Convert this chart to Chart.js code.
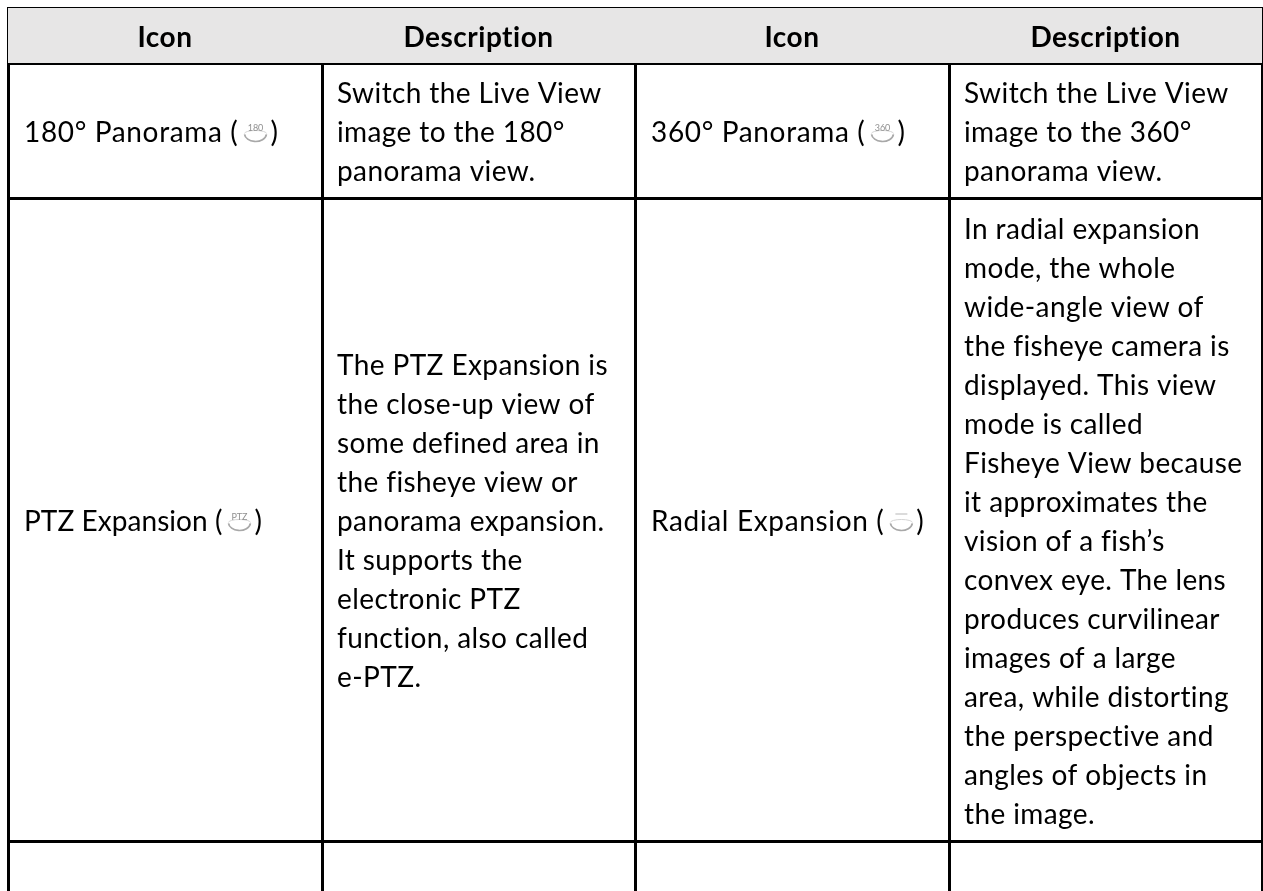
<!DOCTYPE html>
<html>
<head>
<meta charset="utf-8">
<title>Fisheye view icons</title>
<script src="https://cdn.jsdelivr.net/npm/chart.js@4"></script>
<style>
    html, body { margin: 0; padding: 0; background: #fff; }
    #wrap { width: 1263px; height: 891px; }
</style>
</head>
<body>
<div id="wrap"><canvas id="tabela"></canvas></div>
<script>
/* ---- DADOS ---- */
const columnEdges = [8, 322, 635, 949, 1262];
const rowEdges = [8, 63, 198, 841];
const headerLabels = ["Icon", "Description", "Icon", "Description"];

const row1Names = ["180° Panorama (", "360° Panorama ("];
const row1Icons = ["180", "360"];
const row2Names = ["PTZ Expansion (", "Radial Expansion ("];
const row2Icons = ["PTZ", ""];

const desc180 = ["Switch the Live View", "image to the 180°", "panorama view."];
const desc360 = ["Switch the Live View", "image to the 360°", "panorama view."];
const descPtz = [
    "The PTZ Expansion is", "the close-up view of", "some defined area in",
    "the fisheye view or", "panorama expansion.", "It supports the",
    "electronic PTZ", "function, also called", "e-PTZ."
];
const descRadial = [
    "In radial expansion", "mode, the whole", "wide-angle view of",
    "the fisheye camera is", "displayed. This view", "mode is called",
    "Fisheye View because", "it approximates the", "vision of a fish’s",
    "convex eye. The lens", "produces curvilinear", "images of a large",
    "area, while distorting", "the perspective and", "angles of objects in",
    "the image."
];

/* ---- ESTILO ---- */
const FONT = 'Lato';
const BODY_SIZE = 28;
const HEAD_SIZE = 28;
const LINE_H = 39;
const PAD_X = 15;
const BASE_OFF = 11.5;
const SPACING = "0.4px"; // tambem desliga as ligaduras do Lato
const EDGE = 7;

function drawIcon(ctx, x, midY, label) {
    ctx.save();
    ctx.letterSpacing = "0px";
    ctx.strokeStyle = "#a8a8a8";
    ctx.lineWidth = 1.7;
    ctx.beginPath();
    ctx.ellipse(x + 12, midY + 3, 11, 8, 0, 0.1, Math.PI - 0.1);
    ctx.stroke();
    ctx.strokeStyle = "#d4d4d4";
    ctx.lineWidth = 1;
    ctx.beginPath();
    ctx.ellipse(x + 12, midY + 3, 11, 3, 0, Math.PI, 0);
    ctx.stroke();
    ctx.fillStyle = "#909090";
    ctx.font = `9px ${FONT}`;
    ctx.textAlign = "center";
    if (label) ctx.fillText(label, x + 12, midY);
    else {
        ctx.fillStyle = "#b8b8b8";
        ctx.fillRect(x + 6, midY - 6, 12, 1);
    }
    ctx.restore();
}

function drawName(ctx, name, icon, x, midY, spacing) {
    ctx.save();
    ctx.letterSpacing = spacing;
    ctx.font = `${BODY_SIZE}px ${FONT}`;
    ctx.textAlign = "left";
    const baseY = midY + BASE_OFF;
    ctx.fillText(name, x, baseY);
    const w = ctx.measureText(name).width;
    drawIcon(ctx, x + w + 5, midY, icon);
    ctx.fillText(")", x + w + 32, baseY);
    ctx.restore();
}

function drawLines(ctx, lines, x, midY) {
    ctx.font = `${BODY_SIZE}px ${FONT}`;
    ctx.textAlign = "left";
    const top = midY - (lines.length - 1) * LINE_H / 2;
    lines.forEach((t, i) => ctx.fillText(t, x, top + i * LINE_H + BASE_OFF));
}

/* ---- PLUGIN: header fill + cell text, placed through the scales ---- */
const tablePlugin = {
    id: "tablePlugin",
    beforeDatasetsDraw(chart) {
        const { ctx, scales: { x, y } } = chart;
        ctx.save();
        ctx.fillStyle = "#e7e6e6";
        ctx.fillRect(x.getPixelForValue(columnEdges[0]), y.getPixelForValue(rowEdges[0]),
            x.getPixelForValue(columnEdges[4]) - x.getPixelForValue(columnEdges[0]),
            y.getPixelForValue(rowEdges[1]) - y.getPixelForValue(rowEdges[0]));
        ctx.restore();
    },
    afterDraw(chart) {
        const { ctx, scales: { x, y } } = chart;
        const colX = i => x.getPixelForValue(columnEdges[i]);
        const rowMid = i => (y.getPixelForValue(rowEdges[i]) + y.getPixelForValue(rowEdges[i + 1])) / 2;

        ctx.save();
        ctx.fillStyle = "#000";
        ctx.textBaseline = "alphabetic";

        // Cabecalho
        ctx.letterSpacing = "0.5px";
        ctx.font = `bold ${HEAD_SIZE}px ${FONT}`;
        ctx.textAlign = "center";
        headerLabels.forEach((t, i) => {
            ctx.fillText(t, (colX(i) + colX(i + 1)) / 2, rowMid(0) + 11);
        });

        ctx.letterSpacing = SPACING;

        // Linha 1
        drawName(ctx, row1Names[0], row1Icons[0], colX(0) + PAD_X + 1, rowMid(1), "0.65px");
        drawLines(ctx, desc180, colX(1) + PAD_X, rowMid(1));
        drawName(ctx, row1Names[1], row1Icons[1], colX(2) + PAD_X + 1, rowMid(1), "0.65px");
        drawLines(ctx, desc360, colX(3) + PAD_X, rowMid(1));

        // Linha 2
        drawName(ctx, row2Names[0], row2Icons[0], colX(0) + PAD_X + 1, rowMid(2), "0.05px");
        drawLines(ctx, descPtz, colX(1) + PAD_X, rowMid(2));
        drawName(ctx, row2Names[1], row2Icons[1], colX(2) + PAD_X + 1, rowMid(2), "0.65px");
        drawLines(ctx, descRadial, colX(3) + PAD_X, rowMid(2));

        ctx.restore();
    }
};

new Chart(document.querySelector("#tabela"), {
    type: "scatter",
    data: { datasets: [{ data: [] }] },
    plugins: [tablePlugin],
    options: {
        responsive: true,
        maintainAspectRatio: false,
        animation: false,
        layout: { padding: { left: EDGE, top: EDGE, right: 0, bottom: 0 } },
        plugins: { legend: { display: false }, tooltip: { enabled: false } },
        scales: {
            x: {
                type: "linear",
                min: EDGE,
                max: 1263,
                afterBuildTicks: s => { s.ticks = columnEdges.map(v => ({ value: v })); },
                ticks: { display: false },
                border: { display: false },
                grid: { color: "#000", lineWidth: 3, drawTicks: false }
            },
            y: {
                type: "linear",
                reverse: true,
                min: EDGE,
                max: 891,
                afterBuildTicks: s => { s.ticks = rowEdges.map(v => ({ value: v })); },
                ticks: { display: false },
                border: { display: false },
                grid: { color: "#000", lineWidth: 3, drawTicks: false }
            }
        }
    }
});
</script>
</body>
</html>
